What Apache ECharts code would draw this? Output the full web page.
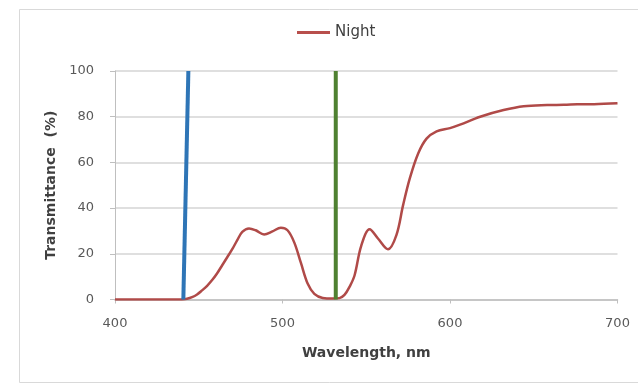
<!DOCTYPE html>
<html>
<head>
<meta charset="utf-8">
<script src="https://cdn.jsdelivr.net/npm/echarts@6/dist/echarts.min.js"></script>
<style>
  html, body { margin: 0; padding: 0; background: #ffffff; }
  #chart { width: 638px; height: 383px; }
</style>
</head>
<body>
<div id="chart"></div>
<script>
// Transmittance spectrum of the "Night" filter (wavelength in nm, transmittance in %)
var wavelength = [400, 420, 440, 443, 446, 449, 452, 455, 458, 461, 464, 467, 470, 473, 476, 480, 484, 489, 494, 499, 503, 507, 511, 515, 519, 524, 530, 534, 537, 540, 543, 547, 552, 557, 563, 568, 572, 576, 581, 586, 592, 600, 606, 618, 632, 644, 658, 668, 676, 686, 700];
var transmittance = [0, 0, 0, 0.3, 1.0, 2.2, 4.0, 6.0, 8.5, 11.5, 15, 18.5, 22, 26, 29.6, 31.1, 30.3, 28.5, 29.8, 31.4, 30.3, 25, 16, 7, 2.5, 0.7, 0.4, 0.6, 2.0, 5.5, 10.5, 23.5, 30.7, 26.7, 22, 28.2, 41.3, 53, 63.9, 70.4, 73.6, 75, 76.5, 80, 82.9, 84.6, 85.1, 85.2, 85.4, 85.5, 85.9];

// Marker lines for two reference wavelengths: [wavelength, %] end points
var blueLine = [[440.8, 0], [443.8, 100]];
var greenLine = [[531.8, 0], [531.8, 100]];

var xTicks = { min: 400, max: 700, step: 100 };
var yTicks = { min: 0, max: 100, step: 20 };

var nightData = wavelength.map(function (w, i) { return [w, transmittance[i]]; });

var fontFamily = '"DejaVu Sans", "Liberation Sans", sans-serif';

var chart = echarts.init(document.getElementById('chart'), null, { renderer: 'canvas' });

chart.setOption({
  animation: false,
  backgroundColor: '#ffffff',
  textStyle: { fontFamily: fontFamily },
  graphic: [{
    type: 'rect',
    left: 17,
    top: 7,
    shape: { width: 640, height: 373 },
    style: { fill: 'none', stroke: '#d9d9d9', lineWidth: 1 },
    z: -1
  }],
  legend: {
    data: ['Night'],
    left: 292,
    top: 20,
    icon: 'rect',
    itemWidth: 33,
    itemHeight: 3,
    textStyle: { fontSize: 15, color: '#404040', fontFamily: fontFamily }
  },
  grid: { left: 115, right: 20.5, top: 71, bottom: 83.5 },
  xAxis: {
    type: 'value',
    min: xTicks.min,
    max: xTicks.max,
    interval: xTicks.step,
    name: 'Wavelength, nm',
    nameLocation: 'middle',
    nameGap: 47,
    nameTextStyle: { fontSize: 14, fontWeight: 'bold', color: '#404040' },
    axisLine: { lineStyle: { color: '#bfbfbf', width: 1.5 } },
    axisTick: { show: true, length: 4, lineStyle: { color: '#bfbfbf' } },
    axisLabel: { fontSize: 13, color: '#595959', margin: 18 },
    splitLine: { show: false }
  },
  yAxis: {
    type: 'value',
    min: yTicks.min,
    max: yTicks.max,
    interval: yTicks.step,
    name: 'Transmittance  (%)',
    nameLocation: 'middle',
    nameGap: 55,
    nameRotate: 90,
    nameTextStyle: { fontSize: 14, fontWeight: 'bold', color: '#404040' },
    axisLine: { show: true, lineStyle: { color: '#bfbfbf', width: 1 } },
    axisTick: { show: true, length: 5, lineStyle: { color: '#bfbfbf' } },
    axisLabel: { fontSize: 13, color: '#595959', margin: 21 },
    splitLine: { show: true, lineStyle: { color: '#d4d4d4', width: 1.5 } }
  },
  series: [
    {
      name: 'Night',
      type: 'line',
      data: nightData,
      smooth: 0.35,
      symbol: 'none',
      color: '#b84f4c',
      lineStyle: { color: '#b04a48', width: 2.5 },
      z: 3
    },
    {
      name: 'blue',
      type: 'line',
      data: blueLine,
      symbol: 'none',
      lineStyle: { color: '#2e75b6', width: 4 },
      z: 4
    },
    {
      name: 'green',
      type: 'line',
      data: greenLine,
      symbol: 'none',
      lineStyle: { color: '#4f8131', width: 4 },
      z: 4
    }
  ]
});
</script>
</body>
</html>
